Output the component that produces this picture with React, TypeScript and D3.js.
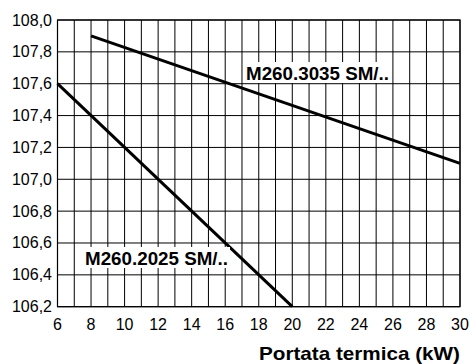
import React from "react";
import * as d3 from "d3";

const xTicks = [6, 8, 10, 12, 14, 16, 18, 20, 22, 24, 26, 28, 30];
const xGrid = d3.range(6, 31, 1);
const yTicks = [106.2, 106.4, 106.6, 106.8, 107.0, 107.2, 107.4, 107.6, 107.8, 108.0];

const series1Name = "M260.3035 SM/..";
const series1X = [8, 30];
const series1Y = [107.9, 107.1];

const series2Name = "M260.2025 SM/..";
const series2X = [6, 20];
const series2Y = [107.6, 106.2];

const xTitle = "Portata termica (kW)";

export default function App() {
  const W = 470, H = 364;
  const left = 57.5, right = 460, top = 20, bottom = 306.7;
  const x = d3.scaleLinear().domain([6, 30]).range([left, right]);
  const y = d3.scaleLinear().domain([106.2, 108.0]).range([bottom, top]);
  const line = d3.line<[number, number]>().x(d => x(d[0])).y(d => y(d[1]));
  const s1 = series1X.map((v, i) => [v, series1Y[i]] as [number, number]);
  const s2 = series2X.map((v, i) => [v, series2Y[i]] as [number, number]);
  const font = "'Liberation Sans', Arial, sans-serif";
  const fmt = (v: number) => v.toFixed(1).replace(".", ",");
  return (
    <svg width={W} height={H} style={{ position: "absolute", left: 0, top: 0, background: "#fff" }}>
      <rect x={0} y={0} width={W} height={H} fill="#fff" />
      {xGrid.map(v => (
        <line key={"gx" + v} x1={x(v)} x2={x(v)} y1={top} y2={bottom} stroke="#000" strokeWidth={1} />
      ))}
      {yTicks.map(v => (
        <line key={"gy" + v} x1={left} x2={right} y1={y(v)} y2={y(v)} stroke="#000" strokeWidth={1} />
      ))}
      <rect x={left} y={top} width={right - left} height={bottom - top} fill="none" stroke="#000" strokeWidth={1.2} />
      <path d={line(s1) || ""} stroke="#000" strokeWidth={3} fill="none" />
      <path d={line(s2) || ""} stroke="#000" strokeWidth={3} fill="none" />
      <rect x={244} y={62} width={147} height={21} fill="#fff" />
      <text x={246} y={80} fontFamily={font} fontWeight="bold" fontSize={19} textLength={143} lengthAdjust="spacingAndGlyphs">{series1Name}</text>
      <rect x={83} y={247} width={147} height={21} fill="#fff" />
      <text x={85} y={264.5} fontFamily={font} fontWeight="bold" fontSize={19} textLength={143} lengthAdjust="spacingAndGlyphs">{series2Name}</text>
      {yTicks.map(v => (
        <text key={"yl" + v} x={52} y={y(v) + 5.5} textAnchor="end" fontFamily={font} fontSize={16}>{fmt(v)}</text>
      ))}
      {xTicks.map(v => (
        <text key={"xl" + v} x={x(v)} y={330} textAnchor="middle" fontFamily={font} fontSize={16}>{v}</text>
      ))}
      <text x={259} y={360} fontFamily={font} fontWeight="bold" fontSize={19} textLength={201} lengthAdjust="spacingAndGlyphs">{xTitle}</text>
    </svg>
  );
}
